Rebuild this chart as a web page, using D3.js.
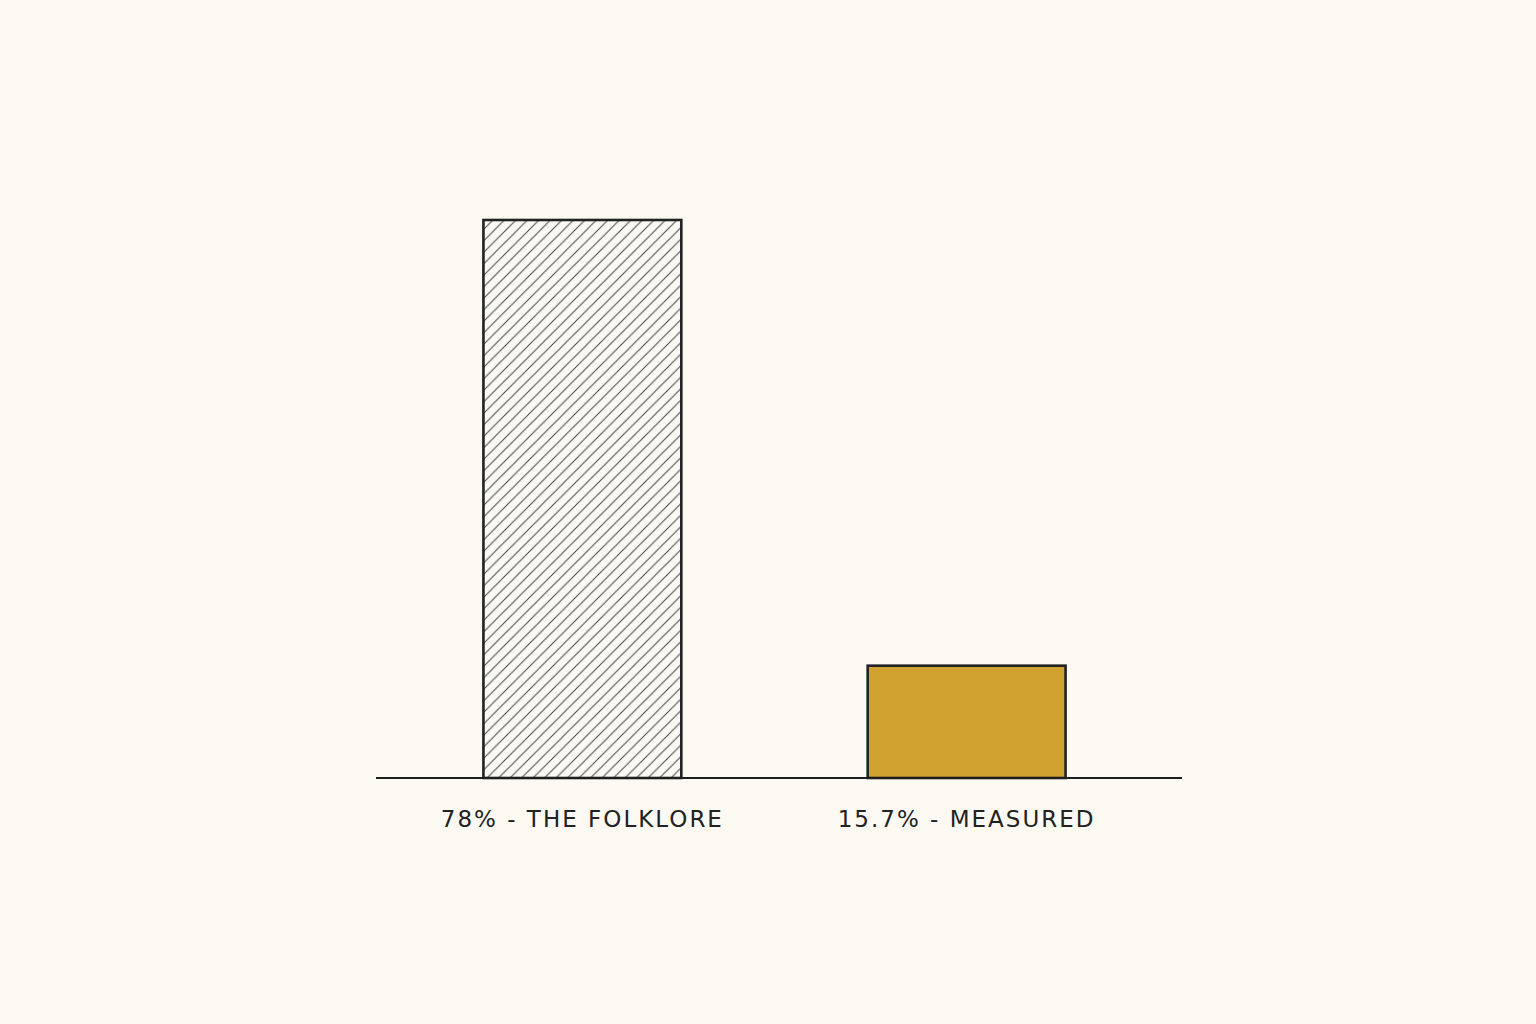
<!DOCTYPE html>
<html><head><meta charset="utf-8">
<script src="https://cdn.jsdelivr.net/npm/d3@7"></script>
<style>html,body{margin:0;padding:0;background:#fcf9f3;}svg{display:block;}</style>
</head><body>
<script>
const categories = ["78% - THE FOLKLORE", "15.7% - MEASURED"];
const values = [78, 15.7];
const fills = ["hatch", "gold"];

const W = 1536, H = 1024;
const svg = d3.select("body").append("svg").attr("width", W).attr("height", H);
svg.append("rect").attr("width", W).attr("height", H).attr("fill", "#fcf9f3");

const defs = svg.append("defs");
const P = 11.5;
const pat = defs.append("pattern").attr("id", "hatch").attr("patternUnits", "userSpaceOnUse")
  .attr("width", P).attr("height", P);
pat.append("rect").attr("width", P).attr("height", P).attr("fill", "#fbf9f4");
pat.append("path").attr("d", `M-2,2 L2,-2 M0,${P} L${P},0 M${P-2},${P+2} L${P+2},${P-2}`)
  .attr("stroke", "#444").attr("stroke-width", 1);

const x = d3.scaleBand().domain(categories).range([372, 1177]).paddingInner(0.485).paddingOuter(0.29);
const y = d3.scaleLinear().domain([0, 78]).range([778, 220]);

svg.selectAll("rect.bar").data(categories).join("rect").attr("class", "bar")
  .attr("x", d => x(d)).attr("width", x.bandwidth())
  .attr("y", (d, i) => y(values[i])).attr("height", (d, i) => y(0) - y(values[i]))
  .attr("fill", (d, i) => fills[i] === "hatch" ? "url(#hatch)" : "#d0a22f")
  .attr("stroke", "#222").attr("stroke-width", 2.6);

svg.append("line").attr("x1", 376).attr("x2", 1182).attr("y1", y(0)).attr("y2", y(0))
  .attr("stroke", "#1e1e1e").attr("stroke-width", 2.2);

svg.selectAll("text.lbl").data(categories).join("text").attr("class", "lbl")
  .attr("x", d => x(d) + x.bandwidth() / 2).attr("y", 827)
  .attr("text-anchor", "middle")
  .attr("font-family", "DejaVu Sans, sans-serif").attr("font-size", 23)
  .attr("letter-spacing", 2).attr("fill", "#222")
  .text(d => d);
</script>
</body></html>
